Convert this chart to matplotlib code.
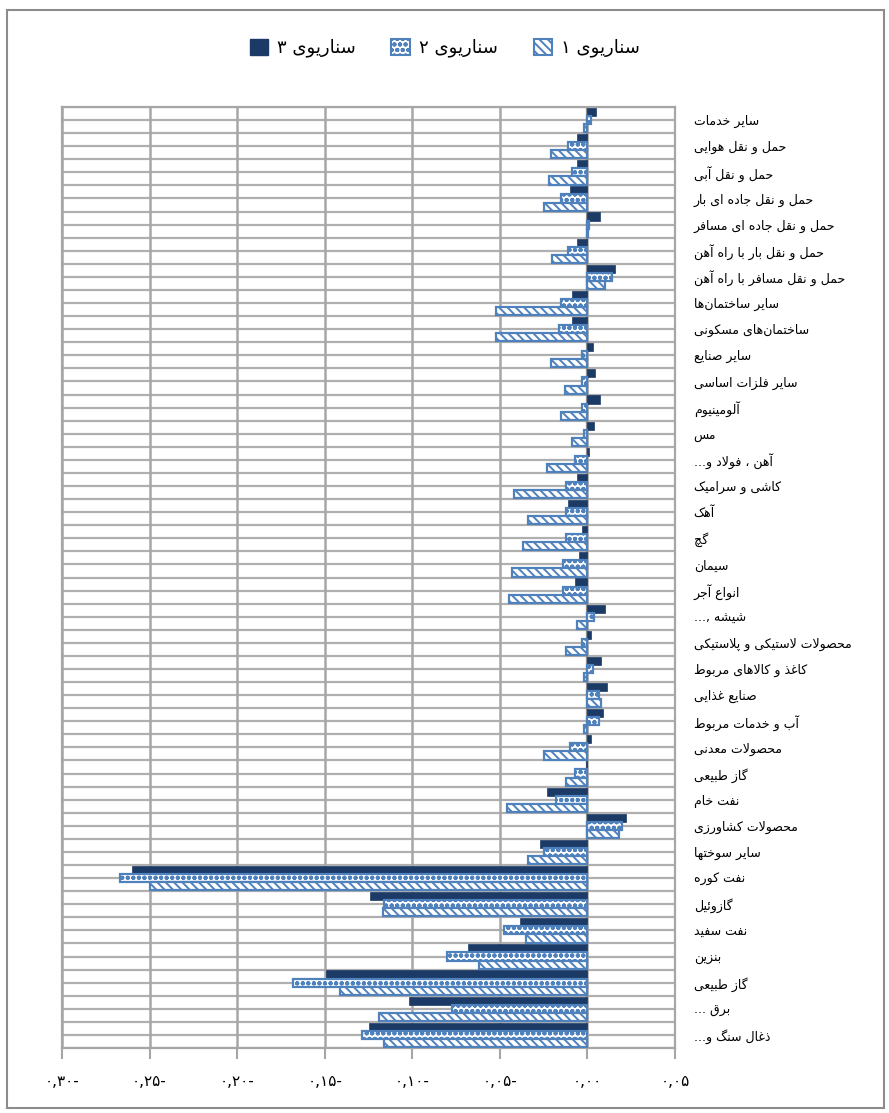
import numpy as np
import matplotlib
matplotlib.use("Agg")
import matplotlib.pyplot as plt
from matplotlib.patches import Patch, Rectangle

plt.rcParams["font.family"] = ["DejaVu Sans"]
plt.rcParams["hatch.linewidth"] = 1.4

# categories, top to bottom
categories = [
    "سایر خدمات", "حمل و نقل هوایی", "حمل و نقل آبی", "حمل و نقل جاده ای بار",
    "حمل و نقل جاده ای مسافر", "حمل و نقل بار با راه آهن", "حمل و نقل مسافر با راه آهن",
    "سایر ساختمان\u200cها", "ساختمان\u200cهای مسکونی", "سایر صنایع", "سایر فلزات اساسی",
    "آلومینیوم", "مس", "آهن ، فولاد و...", "کاشی و سرامیک", "آهک", "گچ", "سیمان",
    "انواع آجر", "شیشه ,...", "محصولات لاستیکی و پلاستیکی", "کاغذ و کالاهای مربوط",
    "صنایع غذایی", "آب و خدمات مربوط", "محصولات معدنی", "گاز طبیعی", "نفت خام",
    "محصولات کشاورزی", "سایر سوختها", "نفت کوره", "گازوئیل", "نفت سفید", "بنزین",
    "گاز طبیعی", "برق ...", "ذغال سنگ و...",
]

scenario3 = [0.005, -0.006, -0.006, -0.010, 0.007, -0.006, 0.016, -0.009, -0.009, 0.003,
             0.0045, 0.007, 0.0035, 0.001, -0.006, -0.011, -0.003, -0.005, -0.007, 0.010,
             0.002, 0.008, 0.011, 0.009, 0.002, -0.001, -0.023, 0.022, -0.027, -0.260,
             -0.124, -0.0385, -0.068, -0.149, -0.102, -0.125]
scenario2 = [0.002, -0.011, -0.009, -0.015, 0.001, -0.011, 0.014, -0.015, -0.016, -0.003,
             -0.003, -0.003, -0.002, -0.007, -0.012, -0.012, -0.012, -0.014, -0.014, 0.0035,
             -0.003, 0.003, 0.0065, 0.0065, -0.010, -0.007, -0.018, 0.020, -0.025, -0.267,
             -0.116, -0.0475, -0.080, -0.168, -0.0776, -0.1285]
scenario1 = [-0.002, -0.021, -0.022, -0.025, 0.0005, -0.020, 0.010, -0.052, -0.052, -0.021,
             -0.013, -0.015, -0.009, -0.023, -0.042, -0.034, -0.037, -0.043, -0.045, -0.006,
             -0.012, -0.002, 0.0075, -0.002, -0.025, -0.012, -0.046, 0.018, -0.034, -0.250,
             -0.1165, -0.035, -0.062, -0.141, -0.119, -0.116]

series_names = ["سناریوی ۱", "سناریوی ۲", "سناریوی ۳"]
xticks = [-0.30, -0.25, -0.20, -0.15, -0.10, -0.05, 0.00, 0.05]
xticklabels = ["۰,۳۰-", "۰,۲۵-", "۰,۲۰-", "۰,۱۵-", "۰,۱۰-", "۰,۰۵-", "۰,۰۰", "۰,۰۵"]

# arabic shaping (matplotlib has no bidi / joining support)
FORMS = {
    "ا": ("\uFE8D", "\uFE8E", None, None), "آ": ("\uFE81", "\uFE82", None, None),
    "ب": ("\uFE8F", "\uFE90", "\uFE91", "\uFE92"), "پ": ("\uFB56", "\uFB57", "\uFB58", "\uFB59"),
    "ت": ("\uFE95", "\uFE96", "\uFE97", "\uFE98"), "ث": ("\uFE99", "\uFE9A", "\uFE9B", "\uFE9C"),
    "ج": ("\uFE9D", "\uFE9E", "\uFE9F", "\uFEA0"), "چ": ("\uFB7A", "\uFB7B", "\uFB7C", "\uFB7D"),
    "ح": ("\uFEA1", "\uFEA2", "\uFEA3", "\uFEA4"), "خ": ("\uFEA5", "\uFEA6", "\uFEA7", "\uFEA8"),
    "د": ("\uFEA9", "\uFEAA", None, None), "ذ": ("\uFEAB", "\uFEAC", None, None),
    "ر": ("\uFEAD", "\uFEAE", None, None), "ز": ("\uFEAF", "\uFEB0", None, None),
    "ژ": ("\uFB8A", "\uFB8B", None, None),
    "س": ("\uFEB1", "\uFEB2", "\uFEB3", "\uFEB4"), "ش": ("\uFEB5", "\uFEB6", "\uFEB7", "\uFEB8"),
    "ص": ("\uFEB9", "\uFEBA", "\uFEBB", "\uFEBC"), "ض": ("\uFEBD", "\uFEBE", "\uFEBF", "\uFEC0"),
    "ط": ("\uFEC1", "\uFEC2", "\uFEC3", "\uFEC4"), "ظ": ("\uFEC5", "\uFEC6", "\uFEC7", "\uFEC8"),
    "ع": ("\uFEC9", "\uFECA", "\uFECB", "\uFECC"), "غ": ("\uFECD", "\uFECE", "\uFECF", "\uFED0"),
    "ف": ("\uFED1", "\uFED2", "\uFED3", "\uFED4"), "ق": ("\uFED5", "\uFED6", "\uFED7", "\uFED8"),
    "ک": ("\uFB8E", "\uFB8F", "\uFB90", "\uFB91"), "گ": ("\uFB92", "\uFB93", "\uFB94", "\uFB95"),
    "ل": ("\uFEDD", "\uFEDE", "\uFEDF", "\uFEE0"), "م": ("\uFEE1", "\uFEE2", "\uFEE3", "\uFEE4"),
    "ن": ("\uFEE5", "\uFEE6", "\uFEE7", "\uFEE8"), "و": ("\uFEED", "\uFEEE", None, None),
    "ه": ("\uFEE9", "\uFEEA", "\uFEEB", "\uFEEC"), "ی": ("\uFBFC", "\uFBFD", "\uFBFE", "\uFBFF"),
    "ئ": ("\uFE89", "\uFE8A", "\uFE8B", "\uFE8C"),
}
LAMALEF = {"ا": ("\uFEFB", "\uFEFC"), "آ": ("\uFEF5", "\uFEF6")}


def dual(c):
    return c in FORMS and FORMS[c][2] is not None


def shape(s):
    out = []
    i = 0
    n = len(s)
    while i < n:
        c = s[i]
        if c not in FORMS:
            if c != "\u200c":
                out.append(c)
            i += 1
            continue
        jp = i > 0 and dual(s[i - 1])
        if c == "ل" and i + 1 < n and s[i + 1] in LAMALEF:
            out.append(LAMALEF[s[i + 1]][1 if jp else 0])
            i += 2
            continue
        jn = dual(c) and i + 1 < n and s[i + 1] in FORMS
        f = FORMS[c]
        if jp and jn:
            out.append(f[3])
        elif jp:
            out.append(f[1])
        elif jn:
            out.append(f[2])
        else:
            out.append(f[0])
        i += 1
    return "".join(out)[::-1]


navy = "#1B3A66"
blue = "#4F81BD"

fig = plt.figure(figsize=(8.89, 11.13), dpi=100)
ax = fig.add_axes([62 / 889, 1 - 1048 / 1113, (675 - 62) / 889, (1048 - 107) / 1113])

y = np.arange(len(categories))
h = 0.31
ax.barh(y - h, scenario3, height=h, color=navy, edgecolor=navy, lw=0.5, zorder=3)
ax.barh(y, scenario2, height=h, color="white", edgecolor=blue, hatch="ooo", lw=1.6, zorder=3)
ax.barh(y + h, scenario1, height=h, color="white", edgecolor=blue, hatch="\\\\\\\\", lw=1.6, zorder=3)

ax.set_ylim(len(categories) - 0.5, -0.5)
ax.set_xlim(-0.30, 0.05)
ax.hlines(np.arange(-0.5, len(categories), 0.5), -0.30, 0.05, color="#AFAFAF", lw=1.6, zorder=0)
ax.set_xticks(xticks)
ax.set_xticklabels(xticklabels, fontsize=11)
ax.grid(axis="x", color="#A6A6A6", lw=1.8, zorder=0)
ax.axvline(0, color="#8C8C8C", lw=1.6, zorder=2)
ax.set_axisbelow(True)

ax.set_yticks(y)
ax.set_yticklabels([shape(c) for c in categories], fontsize=9)
ax.tick_params(axis="y", left=False, right=False, labelleft=False, labelright=True, pad=10)
ax.tick_params(axis="x", direction="out", length=8, width=1.5, color="#A6A6A6", pad=11)
for s in ax.spines.values():
    s.set_color("#A6A6A6")
    s.set_linewidth(1.6)

handles = [
    Patch(facecolor=navy, edgecolor=navy, label=shape(series_names[2])),
    Patch(facecolor="white", edgecolor=blue, hatch="ooo", lw=1.5, label=shape(series_names[1])),
    Patch(facecolor="white", edgecolor=blue, hatch="\\\\\\\\", lw=1.5, label=shape(series_names[0])),
]
fig.legend(handles=handles, loc="center", bbox_to_anchor=(0.5, 1 - 48 / 1113), ncol=3,
           frameon=False, fontsize=13, handlelength=1.0, handleheight=1.0,
           handletextpad=0.5, columnspacing=2.0)

fig.patches.append(Rectangle((7 / 889, 1 - 1108 / 1113), 877 / 889, 1098 / 1113,
                             transform=fig.transFigure, fill=False, edgecolor="#8C8C8C", lw=1.5))

fig.savefig("out.png", dpi=100)
